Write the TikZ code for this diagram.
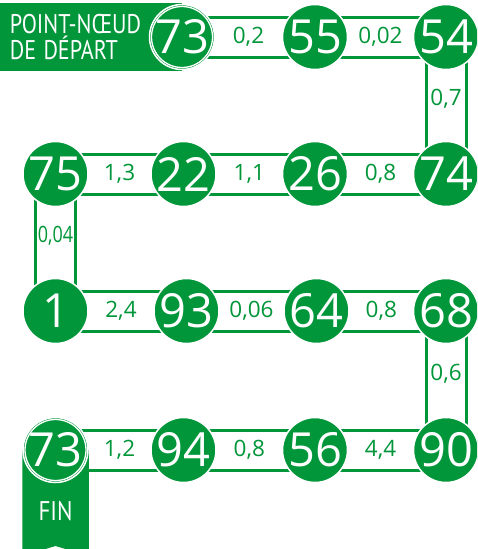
\documentclass[tikz,border=0pt]{standalone}
\usepackage{fontspec}
\setmainfont{Open Sans}
\newfontfamily\capfont{PT Sans}
\usetikzlibrary{backgrounds}
\definecolor{fg}{HTML}{009639}
\begin{document}
\begin{tikzpicture}[x=1pt,y=-1pt,
 num/.style={circle, fill=fg, draw=white, line width=1.5pt, minimum size=65pt, inner sep=0pt, text=white, font=\fontsize{47}{47}\selectfont},
 band/.style={draw=fg, line width=3pt, double=white, double distance=37pt},
 lab/.style={text=fg, font=\fontsize{22.5}{22.5}\selectfont, inner sep=0pt},
 ring/.style={draw=white, line width=1.3pt},
 captext/.style={text=white, font=\capfont\fontsize{27}{26}\selectfont},
]
\useasboundingbox (0,0) rectangle (477,549);
\clip (0,0) rectangle (477,549);
% nodes
\node[num] (a1) at (182,37) {73};
\node[num] (a2) at (315,37) {55};
\node[num] (a3) at (446,37) {54};
\node[num] (b4) at (446,174) {74};
\node[num] (b3) at (315,174) {26};
\node[num] (b2) at (183.5,174) {22};
\node[num] (b1) at (55.5,174) {75};
\node[num] (c1) at (55.5,311) {1};
\node[num] (c2) at (186.5,311) {93};
\node[num] (c3) at (316.5,311) {64};
\node[num] (c4) at (446,311) {68};
\node[num] (d4) at (446,450) {90};
\node[num] (d3) at (315,450) {56};
\node[num] (d2) at (183.5,450) {94};
\node[num] (d1) at (55.5,450) {73};
\draw[ring] (a1.center) circle[radius=30.5pt];
\draw[ring] (d1.center) circle[radius=30.5pt];
\begin{scope}[on background layer]
\draw[band] (a1.center) -- node[lab]{0,2} (a2.center);
\draw[band] (a2.center) -- node[lab]{0,02} (a3.center);
\draw[band] (a3.center) -- node[lab, pos=0.45]{0,7} (b4.center);
\draw[band] (b4.center) -- node[lab]{0,8} (b3.center);
\draw[band] (b3.center) -- node[lab]{1,1} (b2.center);
\draw[band] (b2.center) -- node[lab]{1,3} (b1.center);
\draw[band] (b1.center) -- node[lab, pos=0.45]{\scalebox{0.8}[1]{0,04}} (c1.center);
\draw[band] (c1.center) -- node[lab]{2,4} (c2.center);
\draw[band] (c2.center) -- node[lab]{0,06} (c3.center);
\draw[band] (c3.center) -- node[lab]{0,8} (c4.center);
\draw[band] (c4.center) -- node[lab, pos=0.45]{0,6} (d4.center);
\draw[band] (d4.center) -- node[lab]{4,4} (d3.center);
\draw[band] (d3.center) -- node[lab]{0,8} (d2.center);
\draw[band] (d2.center) -- node[lab]{1,2} (d1.center);
% start box
\node[fill=fg, anchor=east, minimum height=68pt, text width=162pt, inner xsep=10pt, inner ysep=0pt, align=left, captext] (start) at (a1.center) {\scalebox{0.82}[1]{POINT-NŒUD}\\\scalebox{0.82}[1]{DE DÉPART}};
% end ribbon
\fill[fg] (d1.center -| d1.west) -- (d1.center -| d1.east) -- ([yshift=-106pt]d1.center -| d1.east) -- ([yshift=-96pt]d1.center) -- ([yshift=-106pt]d1.center -| d1.west) -- cycle;
\end{scope}
\node[captext] (fin) at (55.5,511) {\scalebox{0.85}[1]{FIN}};
\end{tikzpicture}
\end{document}
